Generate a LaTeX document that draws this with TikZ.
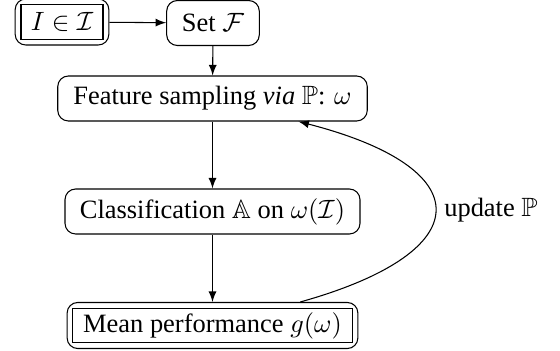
\documentclass[tikz,border=0pt]{standalone}
\usepackage{amssymb}
\usepackage{fontspec}
\setmainfont{Liberation Serif}
\usetikzlibrary{fit}
\tikzset{
  box/.style={draw, rounded corners=4pt, minimum height=17pt},
  dbox/.style={draw, minimum height=13pt, inner sep=1pt},
  dframe/.style={draw, rounded corners=4pt, inner sep=2pt},
}
\begin{document}
\begin{tikzpicture}[x=0.378pt, y=-0.378pt, >=latex]
\useasboundingbox (0,0) rectangle (560,351);
\node[dbox, minimum width=31pt] (img) at (62,22) {$I\in\mathcal{I}$};
\node[dframe, fit=(img)] (imgout) {};
\node[box, minimum width=35pt] (set) at (213,23) {Set $\mathcal{F}$};
\node[box, minimum width=117pt] (feat) at (212.5,98.5) {Feature sampling \emph{via} $\mathbb{P}$: $\omega$};
\node[box, minimum width=111.5pt] (class) at (212.5,211.5) {Classification $\mathbb{A}$ on $\omega(\mathcal{I})$};
\node[dbox, minimum width=105.5pt] (mean) at (212.5,325.5) {Mean performance $g(\omega)$};
\node[dframe, fit=(mean)] (meanout) {};
\draw[->] (imgout) -- (set);
\draw[->] (set) -- (feat);
\draw[->] (feat) -- (class);
\draw[->] (class) -- (meanout);
\draw[->] (meanout) to[bend right=75, looseness=2.65] node[right] {update $\mathbb{P}$} (feat);
\end{tikzpicture}
\end{document}
